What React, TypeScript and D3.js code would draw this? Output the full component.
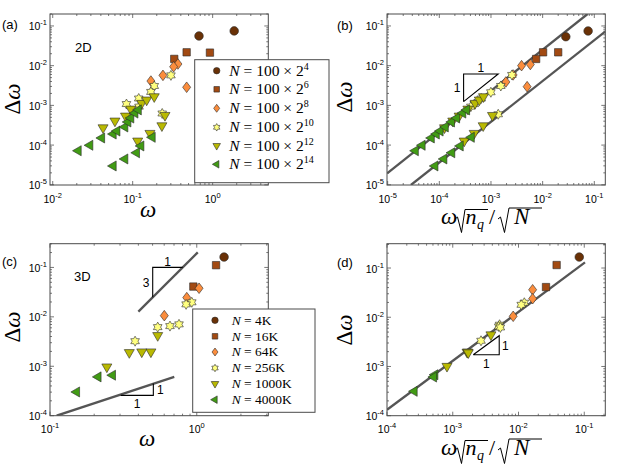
import React from "react";
import * as d3 from "d3";

type Pt = [number, number];

// legend entries
const exps2D = ["4", "6", "8", "10", "12", "14"];
const sizes3D = ["4K", "16K", "64K", "256K", "1000K", "4000K"];
const shapes = ["circle", "square", "diamond", "hexagram", "triDown", "triLeft"];
const colors = ["#6a3106", "#a24a12", "#fb8d3d", "#ffff80", "#b9b902", "#419b14"];

// (a) 2D: Δω vs ω
const a4: Pt[] = [[0.675, 0.056], [1.86, 0.075]];
const a6: Pt[] = [[0.331, 0.0148], [0.473, 0.0217], [0.925, 0.0213]];
const a8: Pt[] = [[0.368, 0.011], [0.325, 0.0094], [0.239, 0.0057], [0.169, 0.0041], [0.473, 0.00286]];
const a10: Pt[] = [[0.301, 0.0057], [0.186, 0.00308], [0.169, 0.00218], [0.119, 0.00149], [0.0836, 0.00108], [0.12, 0.00093], [0.234, 0.000625]];
const a12: Pt[] = [
  [0.0426, 0.000274], [0.06, 0.000405], [0.0813, 0.00054], [0.0944, 0.00081], [0.1296, 0.00113], [0.1496, 0.00137], [0.186, 0.00166],
  [0.1155, 0.000127], [0.1644, 0.000198], [0.232, 0.000308], [0.2535, 0.00056],
];
const a14: Pt[] = [
  [0.0209, 7.2e-5], [0.0292, 9.9e-5], [0.041, 1.51e-4], [0.0572, 1.9e-4], [0.0637, 2.26e-4], [0.08, 2.86e-4], [0.0874, 3.82e-4], [0.095, 4.8e-4], [0.107, 6.4e-4], [0.118, 7.7e-4],
  [0.0572, 2.98e-5], [0.08, 4.47e-5], [0.112, 6.4e-5], [0.127, 9.5e-5], [0.176, 1.57e-4],
];

// (b) 2D rescaled
const b4: Pt[] = [[0.0281, 0.0537], [0.0759, 0.0748]];
const b6: Pt[] = [[0.0102, 0.0217], [0.02, 0.0217], [0.00748, 0.01475]];
const b8: Pt[] = [[0.00578, 0.0107], [0.00391, 0.01], [0.00268, 0.00584], [0.00194, 0.00389], [0.00501, 0.00296]];
const b10: Pt[] = [[0.00254, 0.00584], [0.00155, 0.00308], [0.000995, 0.00214], [0.000646, 0.00149], [0.000475, 0.00108], [0.000408, 0.00093], [0.00138, 0.000597]];
const b12: Pt[] = [
  [1.26e-4, 2.74e-4], [1.82e-4, 4.05e-4], [2.42e-4, 5.4e-4], [3.57e-4, 8.1e-4], [4.92e-4, 1.13e-3], [5.94e-4, 1.37e-3], [7.16e-4, 1.66e-3],
  [3.03e-4, 1.27e-4], [4.73e-4, 1.98e-4], [7.06e-4, 3.08e-4], [1.07e-3, 5.6e-4],
];
const b14: Pt[] = [
  [3.45e-5, 7.2e-5], [4.67e-5, 9.9e-5], [7.03e-5, 1.51e-4], [8.79e-5, 1.9e-4], [1.04e-4, 2.26e-4], [1.31e-4, 2.86e-4], [1.73e-4, 3.82e-4], [2.17e-4, 4.8e-4], [2.86e-4, 6.4e-4], [3.39e-4, 7.7e-4],
  [8.26e-5, 2.98e-5], [1.23e-4, 4.47e-5], [1.75e-4, 6.4e-5], [2.55e-4, 9.5e-5], [4.18e-4, 1.57e-4],
];

// (c) 3D: Δω vs ω
const c4: Pt[] = [[1.535, 0.162]];
const c16: Pt[] = [[1.354, 0.111], [0.948, 0.041]];
const c64: Pt[] = [[1.037, 0.0379], [0.855, 0.0245], [0.601, 0.01057]];
const c256: Pt[] = [[0.925, 0.0197], [0.846, 0.0179], [0.757, 0.00705], [0.657, 0.0065], [0.542, 0.0062], [0.38, 0.00322]];
const c1000: Pt[] = [[0.542, 0.0042], [0.487, 0.00196], [0.422, 0.00196], [0.347, 0.0019], [0.244, 0.000973]];
const c4000: Pt[] = [[0.267, 0.00066], [0.213, 0.00061], [0.152, 0.000302]];

// (d) 3D rescaled
const d4: Pt[] = [[0.084, 0.167]];
const d16: Pt[] = [[0.038, 0.115], [0.0262, 0.041]];
const d64: Pt[] = [[0.0164, 0.0362], [0.0164, 0.0238], [0.0083, 0.01045]];
const d256: Pt[] = [[0.01225, 0.0197], [0.011, 0.0179], [0.00515, 0.00705], [0.005, 0.0065], [0.0053, 0.0062], [0.00269, 0.00333]];
const d1000: Pt[] = [[0.00381, 0.00441], [0.00165, 0.00196], [0.0017, 0.00196], [0.00172, 0.0019], [0.000817, 0.00101]];
const d4000: Pt[] = [[0.000537, 0.00068], [0.000513, 0.00061], [0.00026, 0.000313]];

// guide lines
const bLines: Pt[][] = [[[9.77e-6, 1.95e-5], [0.074, 0.2]], [[2.82e-5, 9.9e-6], [0.162, 0.0718]]];
const cLines: Pt[][] = [[[0.4, 0.01277], [1.016, 0.2017]], [[0.111, 1e-4], [0.703, 6.1e-4]]];
const dLines: Pt[][] = [[[1e-4, 1.32e-4], [0.1026, 0.13]]];

// slope triangles
const bTri: Pt[] = [[2.95e-4, 1.24e-3], [2.95e-4, 6.18e-3], [1.38e-3, 6.18e-3], [2.95e-4, 1.24e-3]];
const cTriUp: Pt[] = [[0.501, 0.0248], [0.501, 0.1], [0.802, 0.1]];
const cTriLow: Pt[] = [[0.303, 2.58e-4], [0.506, 2.58e-4], [0.506, 4.47e-4]];
const dTri: Pt[] = [[0.00205, 0.00173], [0.00509, 0.00173], [0.00509, 0.00422], [0.00205, 0.00173]];

const SANS = "'Liberation Sans', Arial, Helvetica, sans-serif";
const SERIF = "'Liberation Serif', 'Times New Roman', serif";

function markerPath(shape: string, s: number): string {
  const p = d3.path();
  if (shape === "circle") {
    p.arc(0, 0, 4.3 * s, 0, 2 * Math.PI);
  } else if (shape === "square") {
    const h = 3.7 * s;
    p.rect(-h, -h, 2 * h, 2 * h);
  } else if (shape === "diamond") {
    const w = 4 * s, h = 5.3 * s;
    p.moveTo(0, -h); p.lineTo(w, 0); p.lineTo(0, h); p.lineTo(-w, 0);
  } else if (shape === "hexagram") {
    const R = 5 * s, r = R / Math.sqrt(3);
    for (let i = 0; i < 12; i++) {
      const a = -Math.PI / 2 + (i * Math.PI) / 6;
      const rr = i % 2 === 0 ? R : r;
      if (i === 0) p.moveTo(rr * Math.cos(a), rr * Math.sin(a));
      else p.lineTo(rr * Math.cos(a), rr * Math.sin(a));
    }
  } else if (shape === "triDown") {
    const R = 5.8 * s;
    p.moveTo(0, R); p.lineTo(-R * 0.866, -R / 2); p.lineTo(R * 0.866, -R / 2);
  } else {
    const R = 5.8 * s;
    p.moveTo(-R, 0); p.lineTo(R / 2, -R * 0.866); p.lineTo(R / 2, R * 0.866);
  }
  p.closePath();
  return p.toString();
}

function Marker({ shape, color, x, y, s = 1 }: { shape: string; color: string; x: number; y: number; s?: number }) {
  return (
    <path d={markerPath(shape, s)} transform={`translate(${x},${y})`} fill={color} stroke="#2a2a2a" strokeWidth={0.6} />
  );
}

function logTicks(domain: [number, number]) {
  const [lo, hi] = domain;
  const majors: number[] = [];
  const minors: number[] = [];
  for (let k = Math.floor(Math.log10(lo)); k <= Math.ceil(Math.log10(hi)); k++) {
    for (let m = 1; m <= 9; m++) {
      const v = m * Math.pow(10, k);
      if (v >= lo * 0.999 && v <= hi * 1.001) (m === 1 ? majors : minors).push(v);
    }
  }
  return { majors, minors };
}

interface PanelProps {
  id: string;
  left: number; right: number; top: number; bottom: number;
  xDomain: [number, number]; yDomain: [number, number];
  series: Pt[][];
  lines: Pt[][];
  children?: (x: d3.ScaleLogarithmic<number, number>, y: d3.ScaleLogarithmic<number, number>) => React.ReactNode;
}

function Panel({ id, left, right, top, bottom, xDomain, yDomain, series, lines, children }: PanelProps) {
  const x = d3.scaleLog().domain(xDomain).range([left, right]);
  const y = d3.scaleLog().domain(yDomain).range([bottom, top]);
  const xt = logTicks(xDomain);
  const yt = logTicks(yDomain);
  const line = d3.line<Pt>().x((d) => x(d[0])).y((d) => y(d[1]));
  const tick = (v: number, major: boolean, axis: "x" | "y") => {
    const L = major ? 4 : 2;
    if (axis === "x") {
      const px = x(v);
      return (
        <g key={`x${v}`}>
          <line x1={px} x2={px} y1={bottom} y2={bottom - L} />
          <line x1={px} x2={px} y1={top} y2={top + L} />
        </g>
      );
    }
    const py = y(v);
    return (
      <g key={`y${v}`}>
        <line x1={left} x2={left + L} y1={py} y2={py} />
        <line x1={right} x2={right - L} y1={py} y2={py} />
      </g>
    );
  };
  return (
    <g>
      <defs>
        <clipPath id={`clip-${id}`}>
          <rect x={left} y={top} width={right - left} height={bottom - top} />
        </clipPath>
      </defs>
      <rect x={left} y={top} width={right - left} height={bottom - top} fill="#fff" />
      <g stroke="#555" strokeWidth={0.8}>
        {xt.majors.map((v) => tick(v, true, "x"))}
        {xt.minors.map((v) => tick(v, false, "x"))}
        {yt.majors.map((v) => tick(v, true, "y"))}
        {yt.minors.map((v) => tick(v, false, "y"))}
      </g>
      <rect x={left} y={top} width={right - left} height={bottom - top} fill="none" stroke="#4a4a4a" strokeWidth={1} />
      <g fontFamily={SANS} fontSize={10.5} fill="#000">
        {xt.majors.map((v) => (
          <text key={`xl${v}`} x={x(v)} y={bottom + 17.5} textAnchor="middle">
            10<tspan dy={-5} fontSize={7.5}>{Math.round(Math.log10(v))}</tspan>
          </text>
        ))}
        {yt.majors.map((v) => (
          <text key={`yl${v}`} x={left - 3} y={y(v) + 4.5} textAnchor="end">
            10<tspan dy={-5} fontSize={7.5}>{Math.round(Math.log10(v))}</tspan>
          </text>
        ))}
      </g>
      <g clipPath={`url(#clip-${id})`}>
        {lines.map((l, i) => (
          <path key={i} d={line(l) || ""} stroke="#555" strokeWidth={2.3} fill="none" />
        ))}
      </g>
      {children && children(x, y)}
      {series.map((pts, si) =>
        pts.map((d, j) => (
          <Marker key={`${si}-${j}`} shape={shapes[si]} color={colors[si]} x={x(d[0])} y={y(d[1])} />
        ))
      )}
    </g>
  );
}

function DeltaOmega({ x, y }: { x: number; y: number }) {
  return (
    <text transform={`translate(${x},${y}) rotate(-90)`} textAnchor="middle" fontFamily={SERIF} fontSize={23} fill="#000">
      Δ<tspan fontStyle="italic">ω</tspan>
    </text>
  );
}

function Omega({ x, y }: { x: number; y: number }) {
  return (
    <text x={x} y={y} textAnchor="middle" fontFamily={SERIF} fontStyle="italic" fontSize={23} fill="#000">ω</text>
  );
}

function ScaledLabel({ x, y }: { x: number; y: number }) {
  return (
    <g fontFamily={SERIF} fontStyle="italic" fontSize={22} fill="#000">
      <text x={x} y={y} fontSize={23}>ω</text>
      <path d={`M${x + 14},${y - 5} L${x + 16.5},${y - 7} L${x + 20.5},${y + 8.5} L${x + 24},${y - 14.5} L${x + 47},${y - 14.5}`} stroke="#000" strokeWidth={1} fill="none" />
      <text x={x + 24.5} y={y}>n</text>
      <text x={x + 36} y={y + 5} fontSize={14}>q</text>
      <text x={x + 48} y={y} fontStyle="normal">/</text>
      <path d={`M${x + 57},${y - 5} L${x + 59.5},${y - 7} L${x + 63.5},${y + 8.5} L${x + 68},${y - 16} L${x + 101},${y - 16}`} stroke="#000" strokeWidth={1} fill="none" />
      <text x={x + 73} y={y} fontSize={23}>N</text>
    </g>
  );
}

function Legend({ x, y, w, h, markerX, textX, rowY, fontSize, supSize, labels, prefix }: {
  x: number; y: number; w: number; h: number; markerX: number; textX: number; rowY: number[];
  fontSize: number; supSize: number; labels: string[]; prefix: string;
}) {
  return (
    <g>
      <rect x={x} y={y} width={w} height={h} fill="#fff" stroke="#4a4a4a" strokeWidth={1} />
      {labels.map((lab, i) => (
        <g key={lab}>
          <Marker shape={shapes[i]} color={colors[i]} x={markerX} y={rowY[i]} s={0.75} />
          <text x={textX} y={rowY[i] + fontSize * 0.33} fontFamily={SERIF} fontSize={fontSize} fill="#000">
            <tspan fontStyle="italic">N</tspan> = {prefix}
            {supSize > 0 ? <tspan dy={-fontSize * 0.4} fontSize={supSize}>{lab}</tspan> : lab}
          </text>
        </g>
      ))}
    </g>
  );
}

function SlopeLabel({ x, y, t }: { x: number; y: number; t: string }) {
  return (
    <text x={x} y={y + 4.3} textAnchor="middle" fontFamily={SANS} fontSize={12} fill="#000">{t}</text>
  );
}

export default function App() {
  const triStroke = { stroke: "#000", strokeWidth: 1.1, fill: "none" };
  return (
    <svg width={623} height={466} style={{ position: "absolute", left: 0, top: 0, background: "#fff" }}>
      <rect width={623} height={466} fill="#fff" />

      {/* (a) */}
      <Panel id="a" left={50} right={268.3} top={14} bottom={185}
        xDomain={[Math.pow(10, -2.034), Math.pow(10, 0.696)]} yDomain={[Math.pow(10, -5.005), 0.2]}
        series={[a4, a6, a8, a10, a12, a14]} lines={[]} />
      <text x={2} y={29} fontFamily={SANS} fontSize={13}>(a)</text>
      <text x={75} y={52} fontFamily={SANS} fontSize={13}>2D</text>
      <DeltaOmega x={19.5} y={99} />
      <Omega x={148} y={217} />

      {/* (b) */}
      <Panel id="b" left={387} right={605.3} top={14} bottom={185}
        xDomain={[Math.pow(10, -5.013), Math.pow(10, -0.787)]} yDomain={[Math.pow(10, -5.005), 0.2]}
        series={[b4, b6, b8, b10, b12, b14]} lines={bLines}>
        {(x, y) => (
          <g>
            <path d={d3.line<Pt>().x((d) => x(d[0])).y((d) => y(d[1]))(bTri) || ""} {...triStroke} />
            <SlopeLabel x={x(bTri[0][0]) - 6.5} y={(y(bTri[0][1]) + y(bTri[1][1])) / 2} t="1" />
            <SlopeLabel x={(x(bTri[1][0]) + x(bTri[2][0])) / 2} y={y(bTri[1][1]) - 6.5} t="1" />
          </g>
        )}
      </Panel>
      <text x={337} y={30} fontFamily={SANS} fontSize={13}>(b)</text>
      <DeltaOmega x={352} y={97} />
      <ScaledLabel x={441} y={224} />

      {/* (c) */}
      <Panel id="c" left={50} right={268.3} top={243.7} bottom={415.7}
        xDomain={[0.1, Math.pow(10, 0.4875)]} yDomain={[1e-4, Math.pow(10, -0.52)]}
        series={[c4, c16, c64, c256, c1000, c4000]} lines={cLines}>
        {(x, y) => {
          const ln = d3.line<Pt>().x((d) => x(d[0])).y((d) => y(d[1]));
          return (
            <g>
              <path d={ln(cTriUp) || ""} {...triStroke} />
              <SlopeLabel x={x(cTriUp[0][0]) - 6.5} y={(y(cTriUp[0][1]) + y(cTriUp[1][1])) / 2} t="3" />
              <SlopeLabel x={(x(cTriUp[1][0]) + x(cTriUp[2][0])) / 2} y={y(cTriUp[1][1]) - 6} t="1" />
              <path d={ln(cTriLow) || ""} {...triStroke} />
              <SlopeLabel x={x(cTriLow[1][0]) + 7} y={(y(cTriLow[1][1]) + y(cTriLow[2][1])) / 2} t="1" />
              <SlopeLabel x={(x(cTriLow[0][0]) + x(cTriLow[1][0])) / 2} y={y(cTriLow[0][1]) + 8.5} t="1" />
            </g>
          );
        }}
      </Panel>
      <text x={2} y={266} fontFamily={SANS} fontSize={13}>(c)</text>
      <text x={74} y={281} fontFamily={SANS} fontSize={13}>3D</text>
      <DeltaOmega x={19.5} y={327} />
      <Omega x={147} y={446} />

      {/* (d) */}
      <Panel id="d" left={387} right={605.3} top={243.7} bottom={415.7}
        xDomain={[1e-4, Math.pow(10, -0.68)]} yDomain={[1e-4, Math.pow(10, -0.506)]}
        series={[d4, d16, d64, d256, d1000, d4000]} lines={dLines}>
        {(x, y) => (
          <g>
            <path d={d3.line<Pt>().x((d) => x(d[0])).y((d) => y(d[1]))(dTri) || ""} {...triStroke} />
            <SlopeLabel x={x(dTri[1][0]) + 6} y={(y(dTri[1][1]) + y(dTri[2][1])) / 2} t="1" />
            <SlopeLabel x={(x(dTri[0][0]) + x(dTri[1][0])) / 2} y={y(dTri[0][1]) + 8.5} t="1" />
          </g>
        )}
      </Panel>
      <text x={337} y={267} fontFamily={SANS} fontSize={13}>(d)</text>
      <DeltaOmega x={352} y={330} />
      <ScaledLabel x={441} y={455} />

      {/* legends drawn last so they sit above the plots */}
      <Legend x={194.7} y={59.7} w={134.3} h={123} markerX={216.7} textX={229.3}
        rowY={[70.7, 89.3, 108.3, 127.3, 145.7, 164.3]} fontSize={15.5} supSize={10}
        labels={exps2D} prefix="100 × 2" />
      <Legend x={192.7} y={309} w={122.3} h={103.3} markerX={215} textX={231.7}
        rowY={[320.3, 336.3, 352, 368, 383.7, 399.7]} fontSize={13.5} supSize={0}
        labels={sizes3D} prefix="" />
    </svg>
  );
}
